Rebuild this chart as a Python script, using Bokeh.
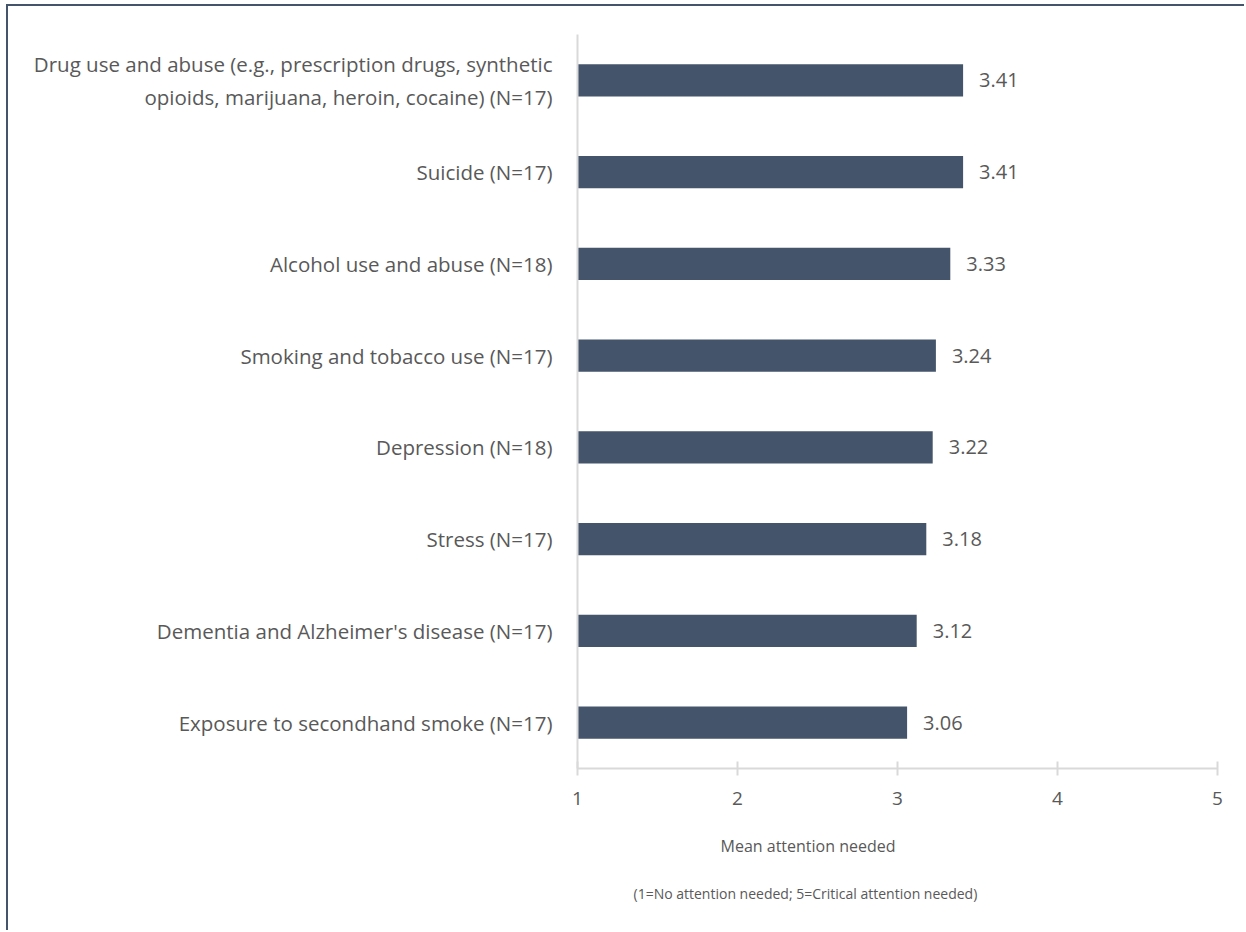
from bokeh.plotting import figure
from bokeh.models import Range1d, FixedTicker, Title, ColumnDataSource
from bokeh.core.properties import value
from bokeh.embed import file_html
from bokeh.resources import INLINE

categories = [
    "Drug use and abuse (e.g., prescription drugs, synthetic\nopioids, marijuana, heroin, cocaine) (N=17)",
    "Suicide (N=17)",
    "Alcohol use and abuse (N=18)",
    "Smoking and tobacco use (N=17)",
    "Depression (N=18)",
    "Stress (N=17)",
    "Dementia and Alzheimer's disease (N=17)",
    "Exposure to secondhand smoke (N=17)",
]
means = [3.41, 3.41, 3.33, 3.24, 3.22, 3.18, 3.12, 3.06]
x_ticks = [1, 2, 3, 4, 5]
x_title = "Mean attention needed"
x_subtitle = "(1=No attention needed; 5=Critical attention needed)"

FONT = "Open Sans"
TXT = "#595959"
BAR = "#44546A"
GRID = "#D9D9D9"

idx = list(range(len(categories)))
src = ColumnDataSource(dict(
    y=idx, left=[x_ticks[0]] * len(idx), right=means,
    lab=[f"{m:.2f}" for m in means],
))

p = figure(width=1238, height=926, output_backend="svg", toolbar_location=None,
           x_range=Range1d(1, 5), y_range=Range1d(len(idx) - 0.5, -0.5),
           min_border_left=569, min_border_right=29, min_border_top=28,
           min_border_bottom=164)
p.styles = {"border-top": "2px solid #44546A", "border-left": "2px solid #44546A",
            "margin-left": "6px", "margin-top": "4px"}
p.outline_line_color = None
p.xgrid.visible = False
p.ygrid.visible = False

p.hbar(y="y", left="left", right="right", height=0.35, source=src,
       fill_color=BAR, line_color=None)
p.text(x="right", y="y", text="lab", source=src, x_offset=16,
       text_baseline="middle", text_align="left", text_color=TXT,
       text_font=value(FONT), text_font_size="20px")

xa = p.xaxis[0]
xa.ticker = FixedTicker(ticks=x_ticks)
xa.axis_line_color = GRID
xa.axis_line_width = 2
xa.major_tick_line_color = GRID
xa.major_tick_line_width = 2
xa.major_tick_in = 7
xa.major_tick_out = 7
xa.minor_tick_line_color = None
xa.major_label_text_font = FONT
xa.major_label_text_font_size = "19px"
xa.major_label_text_color = TXT
xa.major_label_standoff = 16

ya = p.yaxis[0]
ya.ticker = FixedTicker(ticks=idx)
ya.major_label_overrides = {i: c for i, c in zip(idx, categories)}
ya.axis_line_color = GRID
ya.axis_line_width = 2
ya.major_tick_line_color = None
ya.minor_tick_line_color = None
ya.major_label_text_font = FONT
ya.major_label_text_font_size = "20.5px"
ya.major_label_text_color = TXT
ya.major_label_text_line_height = 1.2
ya.major_label_standoff = 19
ya.major_label_text_align = "right"

p.add_layout(Title(text=x_title, align="left", offset=143, standoff=50,
                   text_font=FONT, text_font_size="16px",
                   text_font_style="normal", text_color=TXT), "below")
p.add_layout(Title(text=x_subtitle, align="left", offset=56, standoff=0,
                   text_font=FONT, text_font_size="14px",
                   text_font_style="normal", text_color=TXT), "below")

open("out.html", "w").write(file_html(p, INLINE))
